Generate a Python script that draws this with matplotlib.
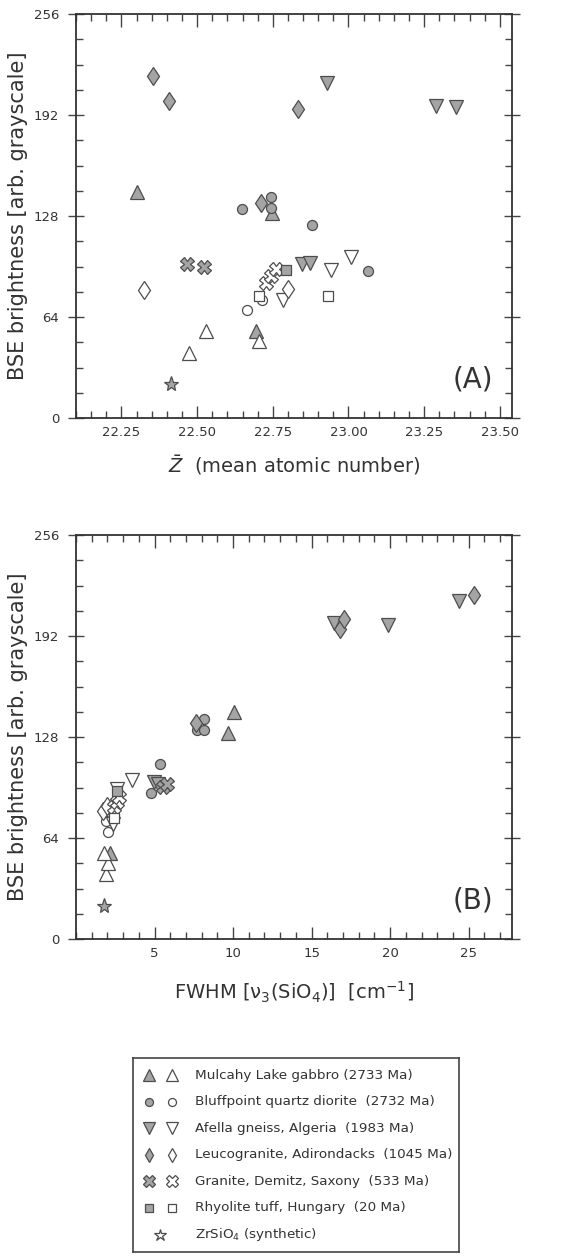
import matplotlib
matplotlib.use("Agg")
import matplotlib.pyplot as plt
from matplotlib.ticker import MultipleLocator, FixedLocator

plt.rcParams['font.family'] = ['DejaVu Sans']
plt.rcParams['mathtext.fontset'] = 'dejavusans'

# ---------------- Panel A data (mean atomic number vs BSE) ----------------
mul_f_A_x = [22.300, 22.695, 22.748]
mul_f_A_y = [143.0, 55.0, 130.0]
mul_o_A_x = [22.473, 22.528, 22.705]
mul_o_A_y = [41.0, 55.0, 48.5]
blu_f_A_x = [22.649, 22.743, 22.743, 22.880, 23.066]
blu_f_A_y = [132.5, 140.0, 133.0, 122.0, 93.0]
blu_o_A_x = [22.666, 22.713]
blu_o_A_y = [68.5, 75.0]
afe_f_A_x = [22.848, 22.872, 22.930, 23.289, 23.356]
afe_f_A_y = [97.5, 98.5, 212.5, 197.5, 197.0]
afe_o_A_x = [22.785, 22.941, 23.008]
afe_o_A_y = [74.5, 93.5, 102.0]
leu_f_A_x = [22.353, 22.406, 22.711, 22.834]
leu_f_A_y = [216.5, 201.0, 136.5, 196.0]
leu_o_A_x = [22.323, 22.801]
leu_o_A_y = [81.0, 82.0]
gra_f_A_x = [22.468, 22.524]
gra_f_A_y = [97.5, 96.0]
gra_o_A_x = [22.728, 22.745, 22.761]
gra_o_A_y = [85.5, 90.0, 94.5]
rhy_f_A_x = [22.792]
rhy_f_A_y = [93.5]
rhy_o_A_x = [22.705, 22.932]
rhy_o_A_y = [77.5, 77.5]
zr_A_x = [22.415]
zr_A_y = [21.4]

# ---------------- Panel B data (FWHM vs BSE) ----------------
mul_f_B_x = [9.67, 10.03, 2.14]
mul_f_B_y = [130.6, 143.7, 54.5]
mul_o_B_x = [1.92, 2.05, 1.78]
mul_o_B_y = [41.0, 48.0, 54.5]
blu_f_B_x = [7.70, 8.12, 8.12, 5.33, 4.79]
blu_f_B_y = [132.7, 139.5, 132.7, 111.0, 92.5]
blu_o_B_x = [2.03, 1.88]
blu_o_B_y = [68.0, 74.5]
afe_f_B_x = [4.98, 5.20, 16.42, 19.85, 24.36]
afe_f_B_y = [99.5, 98.5, 200.0, 199.0, 214.0]
afe_o_B_x = [2.35, 2.62, 3.55]
afe_o_B_y = [73.0, 95.0, 101.0]
leu_f_B_x = [16.83, 17.07, 25.34, 7.65]
leu_f_B_y = [196.5, 203.0, 218.0, 137.0]
leu_o_B_x = [1.74, 1.95]
leu_o_B_y = [81.0, 84.0]
gra_f_B_x = [5.55, 5.80]
gra_f_B_y = [96.5, 98.5]
gra_o_B_x = [2.45, 2.62, 2.75]
gra_o_B_y = [83.5, 87.0, 90.0]
rhy_f_B_x = [2.62]
rhy_f_B_y = [93.5]
rhy_o_B_x = [2.45]
rhy_o_B_y = [76.5]
zr_B_x = [1.78]
zr_B_y = [21.2]

legend_labels = [
    "Mulcahy Lake gabbro (2733 Ma)",
    "Bluffpoint quartz diorite  (2732 Ma)",
    "Afella gneiss, Algeria  (1983 Ma)",
    "Leucogranite, Adirondacks  (1045 Ma)",
    "Granite, Demitz, Saxony  (533 Ma)",
    "Rhyolite tuff, Hungary  (20 Ma)",
    "ZrSiO$_4$ (synthetic)",
]

FILL = '#a4a4a4'
EDGE = '#4d4d4d'
TXT = '#333333'

# marker styles: (marker, size)
styles = {
    'mul': ('^', 10.5),
    'blu': ('o', 7.2),
    'afe': ('v', 10.5),
    'leu': ('d', 9.5),
    'gra': ('X', 10.0),
    'rhy': ('s', 7.0),
    'zr': ('*', 11.0),
}

fig = plt.figure(figsize=(5.61, 12.56), dpi=100)
W, H = 561.0, 1256.0
axA = fig.add_axes([76 / W, (H - 418) / H, 436 / W, 404 / H])
axB = fig.add_axes([76 / W, (H - 939) / H, 436 / W, 404 / H])


def draw(ax, key, x, y, filled):
    m, s = styles[key]
    ax.plot(x, y, linestyle='none', marker=m, markersize=s,
            markerfacecolor=FILL if filled else 'white',
            markeredgecolor=EDGE, markeredgewidth=0.9, clip_on=False, zorder=3)


def panel(ax, d):
    for key in ['mul', 'blu', 'afe', 'leu', 'gra', 'rhy']:
        draw(ax, key, d[key + '_f_x'], d[key + '_f_y'], True)
        draw(ax, key, d[key + '_o_x'], d[key + '_o_y'], False)
    draw(ax, 'zr', d['zr_x'], d['zr_y'], True)


dA = dict(mul_f_x=mul_f_A_x, mul_f_y=mul_f_A_y, mul_o_x=mul_o_A_x, mul_o_y=mul_o_A_y,
          blu_f_x=blu_f_A_x, blu_f_y=blu_f_A_y, blu_o_x=blu_o_A_x, blu_o_y=blu_o_A_y,
          afe_f_x=afe_f_A_x, afe_f_y=afe_f_A_y, afe_o_x=afe_o_A_x, afe_o_y=afe_o_A_y,
          leu_f_x=leu_f_A_x, leu_f_y=leu_f_A_y, leu_o_x=leu_o_A_x, leu_o_y=leu_o_A_y,
          gra_f_x=gra_f_A_x, gra_f_y=gra_f_A_y, gra_o_x=gra_o_A_x, gra_o_y=gra_o_A_y,
          rhy_f_x=rhy_f_A_x, rhy_f_y=rhy_f_A_y, rhy_o_x=rhy_o_A_x, rhy_o_y=rhy_o_A_y,
          zr_x=zr_A_x, zr_y=zr_A_y)
dB = dict(mul_f_x=mul_f_B_x, mul_f_y=mul_f_B_y, mul_o_x=mul_o_B_x, mul_o_y=mul_o_B_y,
          blu_f_x=blu_f_B_x, blu_f_y=blu_f_B_y, blu_o_x=blu_o_B_x, blu_o_y=blu_o_B_y,
          afe_f_x=afe_f_B_x, afe_f_y=afe_f_B_y, afe_o_x=afe_o_B_x, afe_o_y=afe_o_B_y,
          leu_f_x=leu_f_B_x, leu_f_y=leu_f_B_y, leu_o_x=leu_o_B_x, leu_o_y=leu_o_B_y,
          gra_f_x=gra_f_B_x, gra_f_y=gra_f_B_y, gra_o_x=gra_o_B_x, gra_o_y=gra_o_B_y,
          rhy_f_x=rhy_f_B_x, rhy_f_y=rhy_f_B_y, rhy_o_x=rhy_o_B_x, rhy_o_y=rhy_o_B_y,
          zr_x=zr_B_x, zr_y=zr_B_y)

panel(axA, dA)
panel(axB, dB)


def style_axes(ax, xmaj, xmin):
    ax.set_ylim(0, 256)
    ax.yaxis.set_major_locator(MultipleLocator(64))
    ax.yaxis.set_minor_locator(MultipleLocator(16))
    ax.xaxis.set_major_locator(xmaj)
    ax.xaxis.set_minor_locator(MultipleLocator(xmin))
    for sp in ax.spines.values():
        sp.set_color('#333333')
        sp.set_linewidth(1.3)
    ax.tick_params(which='both', direction='in', top=True, right=True,
                   colors='#444444', labelcolor=TXT, labelsize=9.5, width=1.0)
    ax.tick_params(which='major', length=9, pad=6)
    ax.tick_params(which='minor', length=5)
    ax.tick_params(axis='y', which='major', direction='inout', length=12)
    ax.set_ylabel('BSE brightness [arb. grayscale]', fontsize=15, color=TXT)
    ax.yaxis.set_label_coords(-0.11, 0.5)


axA.set_xlim(22.10, 23.54)
style_axes(axA, FixedLocator([22.25, 22.50, 22.75, 23.00, 23.25, 23.50]), 0.05)
axA.set_xticklabels(['22.25', '22.50', '22.75', '23.00', '23.25', '23.50'])
axA.set_xlabel(r'$\bar{Z}$  (mean atomic number)', fontsize=14, color=TXT, labelpad=10)
axA.text(0.91, 0.095, '(A)', transform=axA.transAxes, fontsize=20, color=TXT,
         ha='center', va='center')

axB.set_xlim(0, 27.76)
style_axes(axB, MultipleLocator(5), 1)
axB.set_xticks([5, 10, 15, 20, 25])
axB.set_xlabel(r'FWHM [ν$_3$(SiO$_4$)]  [cm$^{-1}$]', fontsize=14, color=TXT, labelpad=14)
axB.text(0.91, 0.095, '(B)', transform=axB.transAxes, fontsize=20, color=TXT,
         ha='center', va='center')

# ---------------- legend box ----------------
lx0, ly0, lw, lh = 133, 1058, 326, 194
axL = fig.add_axes([lx0 / W, (H - ly0 - lh) / H, lw / W, lh / H])
axL.set_xlim(0, lw)
axL.set_ylim(lh, 0)
axL.set_xticks([])
axL.set_yticks([])
for sp in axL.spines.values():
    sp.set_color('#444444')
    sp.set_linewidth(1.2)
keys = ['mul', 'blu', 'afe', 'leu', 'gra', 'rhy', 'zr']
scale_leg = {'mul': 0.8, 'blu': 0.8, 'afe': 0.8, 'leu': 0.8, 'gra': 0.85, 'rhy': 0.85, 'zr': 0.85}
for i, (k, lab) in enumerate(zip(keys, legend_labels)):
    yy = 17 + i * 26.6
    m, s = styles[k]
    s = s * scale_leg[k]
    if k == 'zr':
        axL.plot([27], [yy], ls='none', marker=m, markersize=s, markerfacecolor='white',
                 markeredgecolor=EDGE, markeredgewidth=0.9)
    else:
        axL.plot([16], [yy], ls='none', marker=m, markersize=s, markerfacecolor=FILL,
                 markeredgecolor=EDGE, markeredgewidth=0.9)
        axL.plot([39], [yy], ls='none', marker=m, markersize=s, markerfacecolor='white',
                 markeredgecolor=EDGE, markeredgewidth=0.9)
    axL.text(62, yy, lab, fontsize=9.7, color=TXT, va='center', ha='left')

fig.savefig('out.png', dpi=100)
